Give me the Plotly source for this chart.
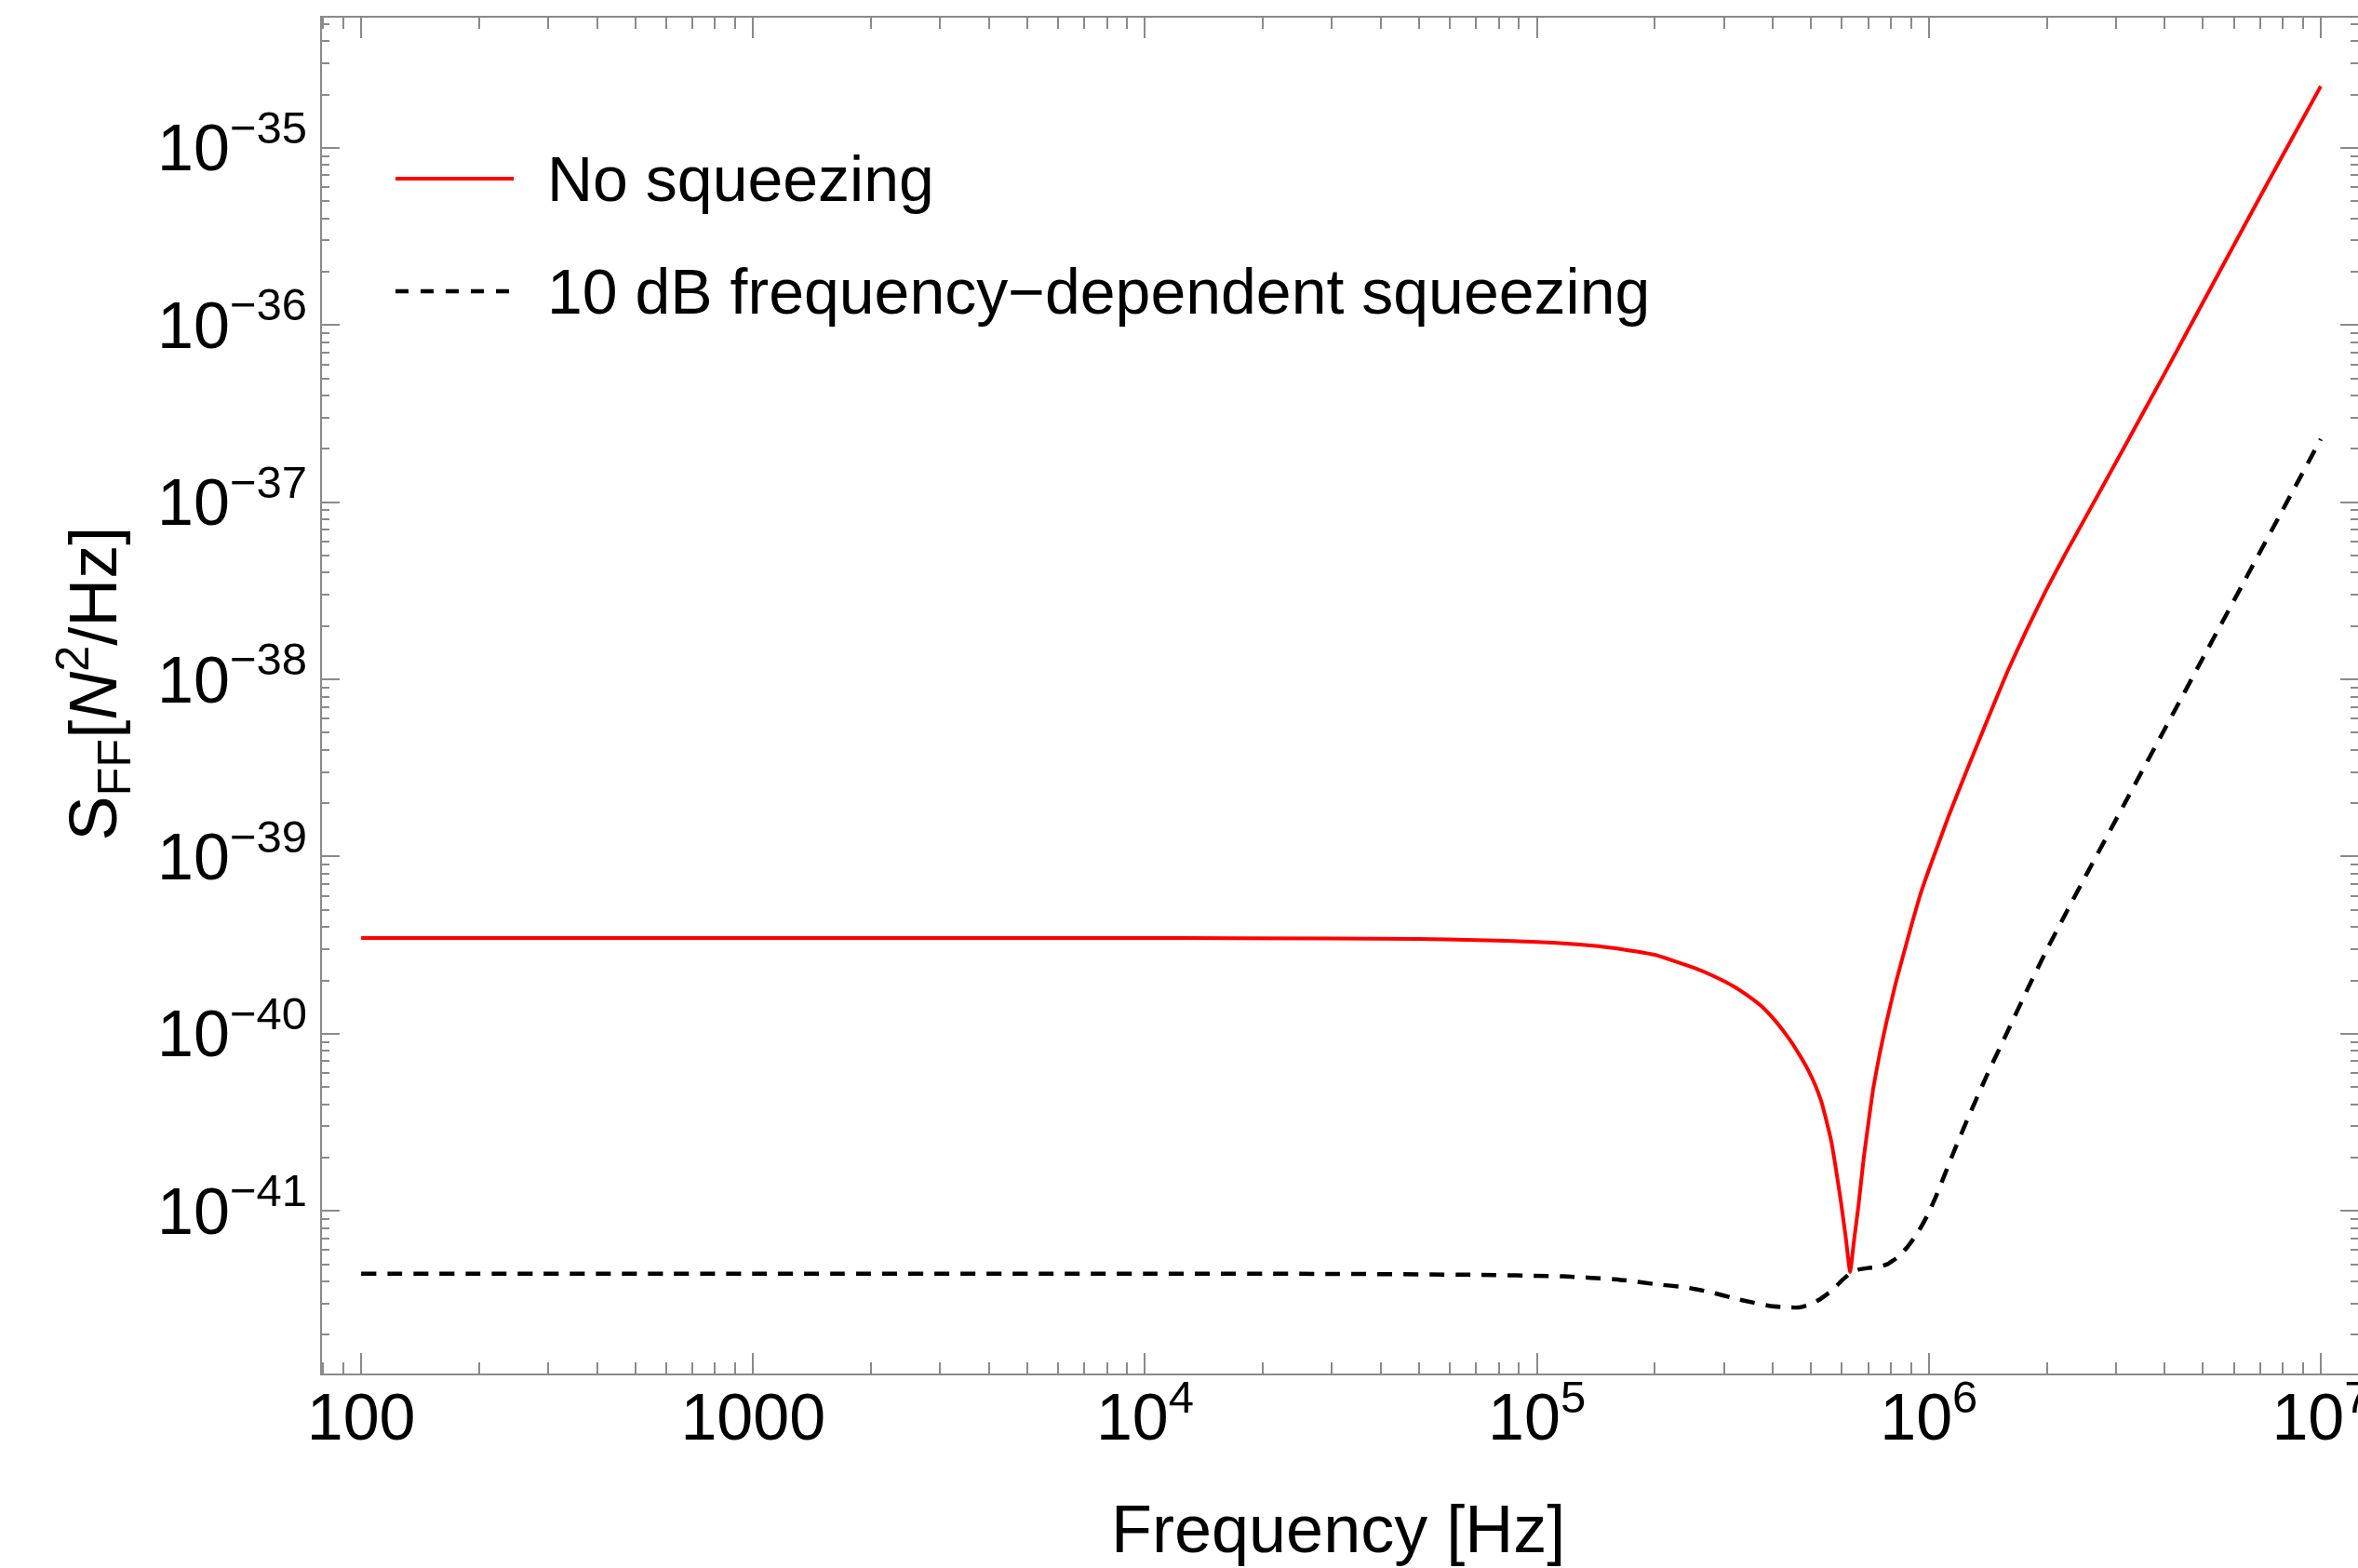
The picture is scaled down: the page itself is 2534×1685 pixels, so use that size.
import plotly.graph_objects as go

# Force noise spectral density S_FF versus frequency
freq_no_sq = [1e2, 1e3, 1e4, 3e4, 5e4, 7e4,
              1.0e5, 1.259e5, 1.585e5, 1.995e5, 2.512e5, 2.818e5, 3.162e5, 3.548e5,
              3.741e5, 4.074e5, 4.406e5, 4.677e5, 4.920e5, 5.129e5, 5.309e5, 5.470e5,
              5.636e5, 5.794e5, 5.957e5, 6.138e5, 6.295e5,
              6.457e5, 6.607e5, 6.823e5, 7.015e5, 7.211e5, 7.482e5, 7.780e5, 8.222e5,
              8.690e5, 9.078e5, 9.484e5, 1.0e6, 1.122e6, 1.259e6, 1.413e6, 1.585e6,
              1.778e6, 1.995e6, 2.239e6, 2.512e6, 3.162e6, 3.981e6, 5.012e6, 6.310e6,
              7.943e6, 1e7]
sff_no_sq = [3.47e-40, 3.47e-40, 3.47e-40, 3.45e-40, 3.43e-40, 3.38e-40,
             3.30e-40, 3.20e-40, 3.04e-40, 2.79e-40, 2.36e-40, 2.12e-40, 1.86e-40, 1.57e-40,
             1.43e-40, 1.17e-40, 9.33e-41, 7.59e-41, 6.24e-41, 5.13e-41, 4.18e-41, 3.27e-41,
             2.47e-41, 1.72e-41, 1.15e-41, 7.08e-42, 4.53e-42,
             7.08e-42, 1.05e-41, 2.00e-41, 3.16e-41, 4.90e-41, 7.59e-41, 1.14e-40, 1.91e-40,
             3.01e-40, 4.27e-40, 5.98e-40, 8.41e-40, 1.68e-39, 3.19e-39, 5.96e-39, 1.10e-38,
             1.91e-38, 3.21e-38, 5.19e-38, 8.22e-38, 2.07e-37, 5.25e-37, 1.35e-36, 3.47e-36,
             8.83e-36, 2.23e-35]

freq_sq = [1e2, 1e3, 1e4, 3e4, 6.76e4, 1.17e5, 1.62e5, 2.02e5, 2.38e5, 2.77e5,
           3.24e5, 3.95e5, 4.37e5, 4.66e5, 4.95e5, 5.25e5, 5.62e5, 6.03e5, 6.30e5,
           6.61e5, 7.0e5, 7.41e5, 7.85e5, 8.32e5, 8.81e5, 9.33e5, 9.89e5, 1.04e6,
           1.107e6, 1.17e6, 1.259e6, 1.413e6, 1.585e6, 1.778e6, 1.995e6, 2.239e6,
           2.512e6, 3.162e6, 3.981e6, 5.012e6, 6.310e6, 7.943e6, 1e7]
sff_sq = [4.42e-42, 4.42e-42, 4.42e-42, 4.41e-42, 4.36e-42, 4.27e-42, 4.09e-42,
          3.85e-42, 3.71e-42, 3.48e-42, 3.18e-42, 2.90e-42, 2.85e-42, 2.85e-42,
          2.95e-42, 3.15e-42, 3.51e-42, 4.09e-42, 4.44e-42,
          4.66e-42, 4.76e-42, 4.81e-42, 5.01e-42, 5.47e-42, 6.24e-42, 7.41e-42,
          9.33e-42, 1.19e-41, 1.68e-41, 2.28e-41, 3.35e-41, 5.96e-41, 1.02e-40,
          1.75e-40, 2.95e-40, 4.81e-40, 7.76e-40, 2.00e-39, 5.15e-39, 1.33e-38,
          3.42e-38, 8.81e-38, 2.27e-37]

series_names = ["No squeezing", "10 dB frequency\u2212dependent squeezing"]

x_tickvals = [1e2, 1e3, 1e4, 1e5, 1e6, 1e7]
x_ticktext = ["100", "1000", "10<sup>4</sup>", "10<sup>5</sup>", "10<sup>6</sup>", "10<sup>7</sup>"]
y_tickvals = [1e-41, 1e-40, 1e-39, 1e-38, 1e-37, 1e-36, 1e-35]
y_ticktext = ["10<sup>\u221241</sup>", "10<sup>\u221240</sup>", "10<sup>\u221239</sup>",
              "10<sup>\u221238</sup>", "10<sup>\u221237</sup>", "10<sup>\u221236</sup>",
              "10<sup>\u221235</sup>"]

x_minor = [m * 10 ** e for e in range(1, 8) for m in range(2, 10)]
y_minor = [m * 10.0 ** e for e in range(-42, -34) for m in range(2, 10)]

FONT = "Liberation Sans, Arial, sans-serif"
FRAME = "#8a8a8a"

fig = go.Figure()
fig.add_trace(go.Scatter(x=freq_no_sq, y=sff_no_sq, mode="lines", name=series_names[0],
                         line=dict(color="#ff0000", width=4, shape="spline", smoothing=0.4),
                         showlegend=False))
fig.add_trace(go.Scatter(x=freq_sq, y=sff_sq, mode="lines", name=series_names[1],
                         line=dict(color="#000000", width=4.5, dash="16px,12px",
                                   shape="spline", smoothing=0.4),
                         showlegend=False))

axis_common = dict(
    showline=True, linecolor=FRAME, linewidth=2, mirror="allticks",
    ticks="inside", tickwidth=2, tickcolor=FRAME, automargin=False,
    showgrid=False, zeroline=False, ticklabeloverflow="allow",
    tickfont=dict(family=FONT, size=70, color="black"),
)

fig.update_xaxes(type="log", range=[1.9, 7.095], tickmode="array",
                 tickvals=x_tickvals, ticktext=x_ticktext, ticklen=22,
                 ticklabelstandoff=-15,
                 minor=dict(tickmode="array", tickvals=x_minor, ticks="inside",
                            ticklen=12, tickwidth=2, tickcolor=FRAME, showgrid=False),
                 **axis_common)
fig.update_yaxes(type="log", range=[-41.918, -34.265], tickmode="array",
                 tickvals=y_tickvals, ticktext=y_ticktext, ticklen=19,
                 minor=dict(tickmode="array", tickvals=y_minor, ticks="inside",
                            ticklen=8, tickwidth=2, tickcolor=FRAME, showgrid=False),
                 **axis_common)

annotations = [
    dict(text="Frequency [Hz]", x=0.499, y=-0.1146, xref="paper", yref="paper",
         xanchor="center", yanchor="middle", showarrow=False,
         font=dict(family=FONT, size=72, color="black")),
    dict(text="S<sub>FF</sub>[<i>N</i><sup>2</sup>/Hz]", x=-0.1124, y=0.509,
         xref="paper", yref="paper", xanchor="center", yanchor="middle",
         textangle=-90, showarrow=False,
         font=dict(family=FONT, size=72, color="black")),
    dict(text=series_names[0], x=0.1095, y=0.8813, xref="paper", yref="paper",
         xanchor="left", yanchor="middle", showarrow=False,
         font=dict(family=FONT, size=68, color="black")),
    dict(text=series_names[1], x=0.1095, y=0.7982, xref="paper", yref="paper",
         xanchor="left", yanchor="middle", showarrow=False,
         font=dict(family=FONT, size=68, color="black")),
]

shapes = [
    dict(type="line", xref="paper", yref="paper", x0=0.0361, x1=0.0942,
         y0=0.8813, y1=0.8813, line=dict(color="#ff0000", width=4)),
    dict(type="line", xref="paper", yref="paper", x0=0.0361, x1=0.0920,
         y0=0.7982, y1=0.7982, line=dict(color="#000000", width=4.5, dash="14px,13px")),
]

fig.update_layout(
    width=2534, height=1685, autosize=False,
    margin=dict(l=346, r=0, t=19, b=209, autoexpand=False),
    paper_bgcolor="white", plot_bgcolor="white",
    annotations=annotations, shapes=shapes,
    font=dict(family=FONT, color="black"),
)

fig.write_html("out.html")
